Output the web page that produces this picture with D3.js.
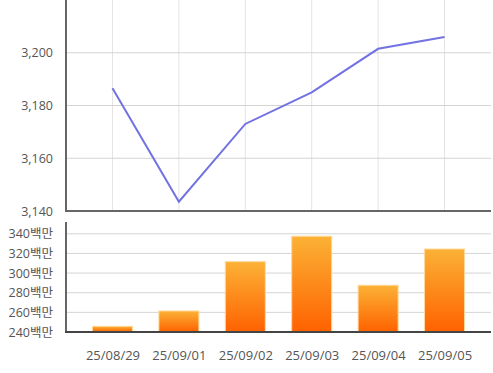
<!DOCTYPE html>
<html>
<head>
<meta charset="utf-8">
<script src="https://cdn.jsdelivr.net/npm/d3@7"></script>
<style>
    html, body { margin: 0; padding: 0; background: #fff; }
    svg { display: block; }
    svg text { font-family: "Open Sans", "Noto Sans CJK KR", sans-serif; }
</style>
</head>
<body>
<svg id="chart" width="493" height="373"></svg>
<script>
// chart data
const dates = ["25/08/29", "25/09/01", "25/09/02", "25/09/03", "25/09/04", "25/09/05"];
const prices = [3186.5, 3143.5, 3173, 3185, 3201.5, 3206];
const volumes = [245.8, 261.4, 311.6, 337.5, 287.6, 324.5]; // 백만
const priceTicks = [3140, 3160, 3180, 3200];
const volumeTicks = [240, 260, 280, 300, 320, 340];

const svg = d3.select("#chart");
const left = 66, right = 491;

// shared x
const x = d3.scalePoint().domain(dates).range([left, right]).padding(0.7);

// --- price panel ---
const yP = d3.scaleLinear().domain([3140, 3220]).range([211, 0]);

const priceGrid = svg.append("g");
priceGrid.selectAll("line.v")
    .data(dates)
    .join("line")
    .attr("class", "v")
    .attr("x1", d => x(d)).attr("x2", d => x(d))
    .attr("y1", yP.range()[1]).attr("y2", yP.range()[0])
    .attr("stroke", "#e4e4e4").attr("stroke-width", 1);
priceGrid.selectAll("line.h")
    .data(priceTicks.slice(1))
    .join("line")
    .attr("class", "h")
    .attr("x1", left).attr("x2", right)
    .attr("y1", d => yP(d)).attr("y2", d => yP(d))
    .attr("stroke", "#d4d4d4").attr("stroke-width", 1);

svg.append("path")
    .datum(prices)
    .attr("fill", "none")
    .attr("stroke", "#7272e2")
    .attr("stroke-width", 2)
    .attr("d", d3.line().x((d, i) => x(dates[i])).y(d => yP(d)));

const priceAxis = svg.append("g")
    .attr("transform", `translate(${left},0)`)
    .call(d3.axisLeft(yP).tickValues(priceTicks).tickSize(0).tickPadding(13)
        .tickFormat(d3.format(",")));
priceAxis.select(".domain").remove();
priceAxis.selectAll("text").attr("fill", "#555").style("font-size", "12.5px");

svg.append("line")
    .attr("x1", left).attr("x2", left).attr("y1", 0).attr("y2", 211)
    .attr("stroke", "#666").attr("stroke-width", 2);
svg.append("line")
    .attr("x1", left - 1).attr("x2", right).attr("y1", 211).attr("y2", 211)
    .attr("stroke", "#666").attr("stroke-width", 2);

// --- volume panel ---
const yV = d3.scaleLinear().domain([240, 352]).range([332, 222]);

svg.append("g").selectAll("line")
    .data(volumeTicks.slice(1))
    .join("line")
    .attr("x1", left).attr("x2", right)
    .attr("y1", d => yV(d)).attr("y2", d => yV(d))
    .attr("stroke", "#d4d4d4").attr("stroke-width", 1);

const grad = svg.append("defs").append("linearGradient")
    .attr("id", "barGrad").attr("x1", 0).attr("x2", 0).attr("y1", 0).attr("y2", 1);
grad.append("stop").attr("offset", "0%").attr("stop-color", "#fbb236");
grad.append("stop").attr("offset", "100%").attr("stop-color", "#ff6200");

const barW = 40;
svg.append("g").selectAll("rect")
    .data(volumes)
    .join("rect")
    .attr("x", (d, i) => x(dates[i]) - barW / 2)
    .attr("y", d => yV(d))
    .attr("width", barW)
    .attr("height", d => yV(240) - yV(d))
    .attr("fill", "url(#barGrad)")
    .attr("stroke", "#ffd89a")
    .attr("stroke-width", 1);

const volAxis = svg.append("g")
    .attr("transform", `translate(${left},0)`)
    .call(d3.axisLeft(yV).tickValues(volumeTicks).tickSize(0).tickPadding(13)
        .tickFormat(d => d + "백만"));
volAxis.select(".domain").remove();
volAxis.selectAll("text").attr("fill", "#555").style("font-size", "12.5px");

svg.append("line")
    .attr("x1", left).attr("x2", left).attr("y1", 222).attr("y2", 332)
    .attr("stroke", "#666").attr("stroke-width", 2);
svg.append("line")
    .attr("x1", left - 1).attr("x2", right).attr("y1", 332).attr("y2", 332)
    .attr("stroke", "#444").attr("stroke-width", 2);

const xAxis = svg.append("g")
    .attr("transform", "translate(0,332)")
    .call(d3.axisBottom(x).tickSize(0).tickPadding(19));
xAxis.select(".domain").remove();
xAxis.selectAll("text").attr("fill", "#555").style("font-size", "13px");
</script>
</body>
</html>
